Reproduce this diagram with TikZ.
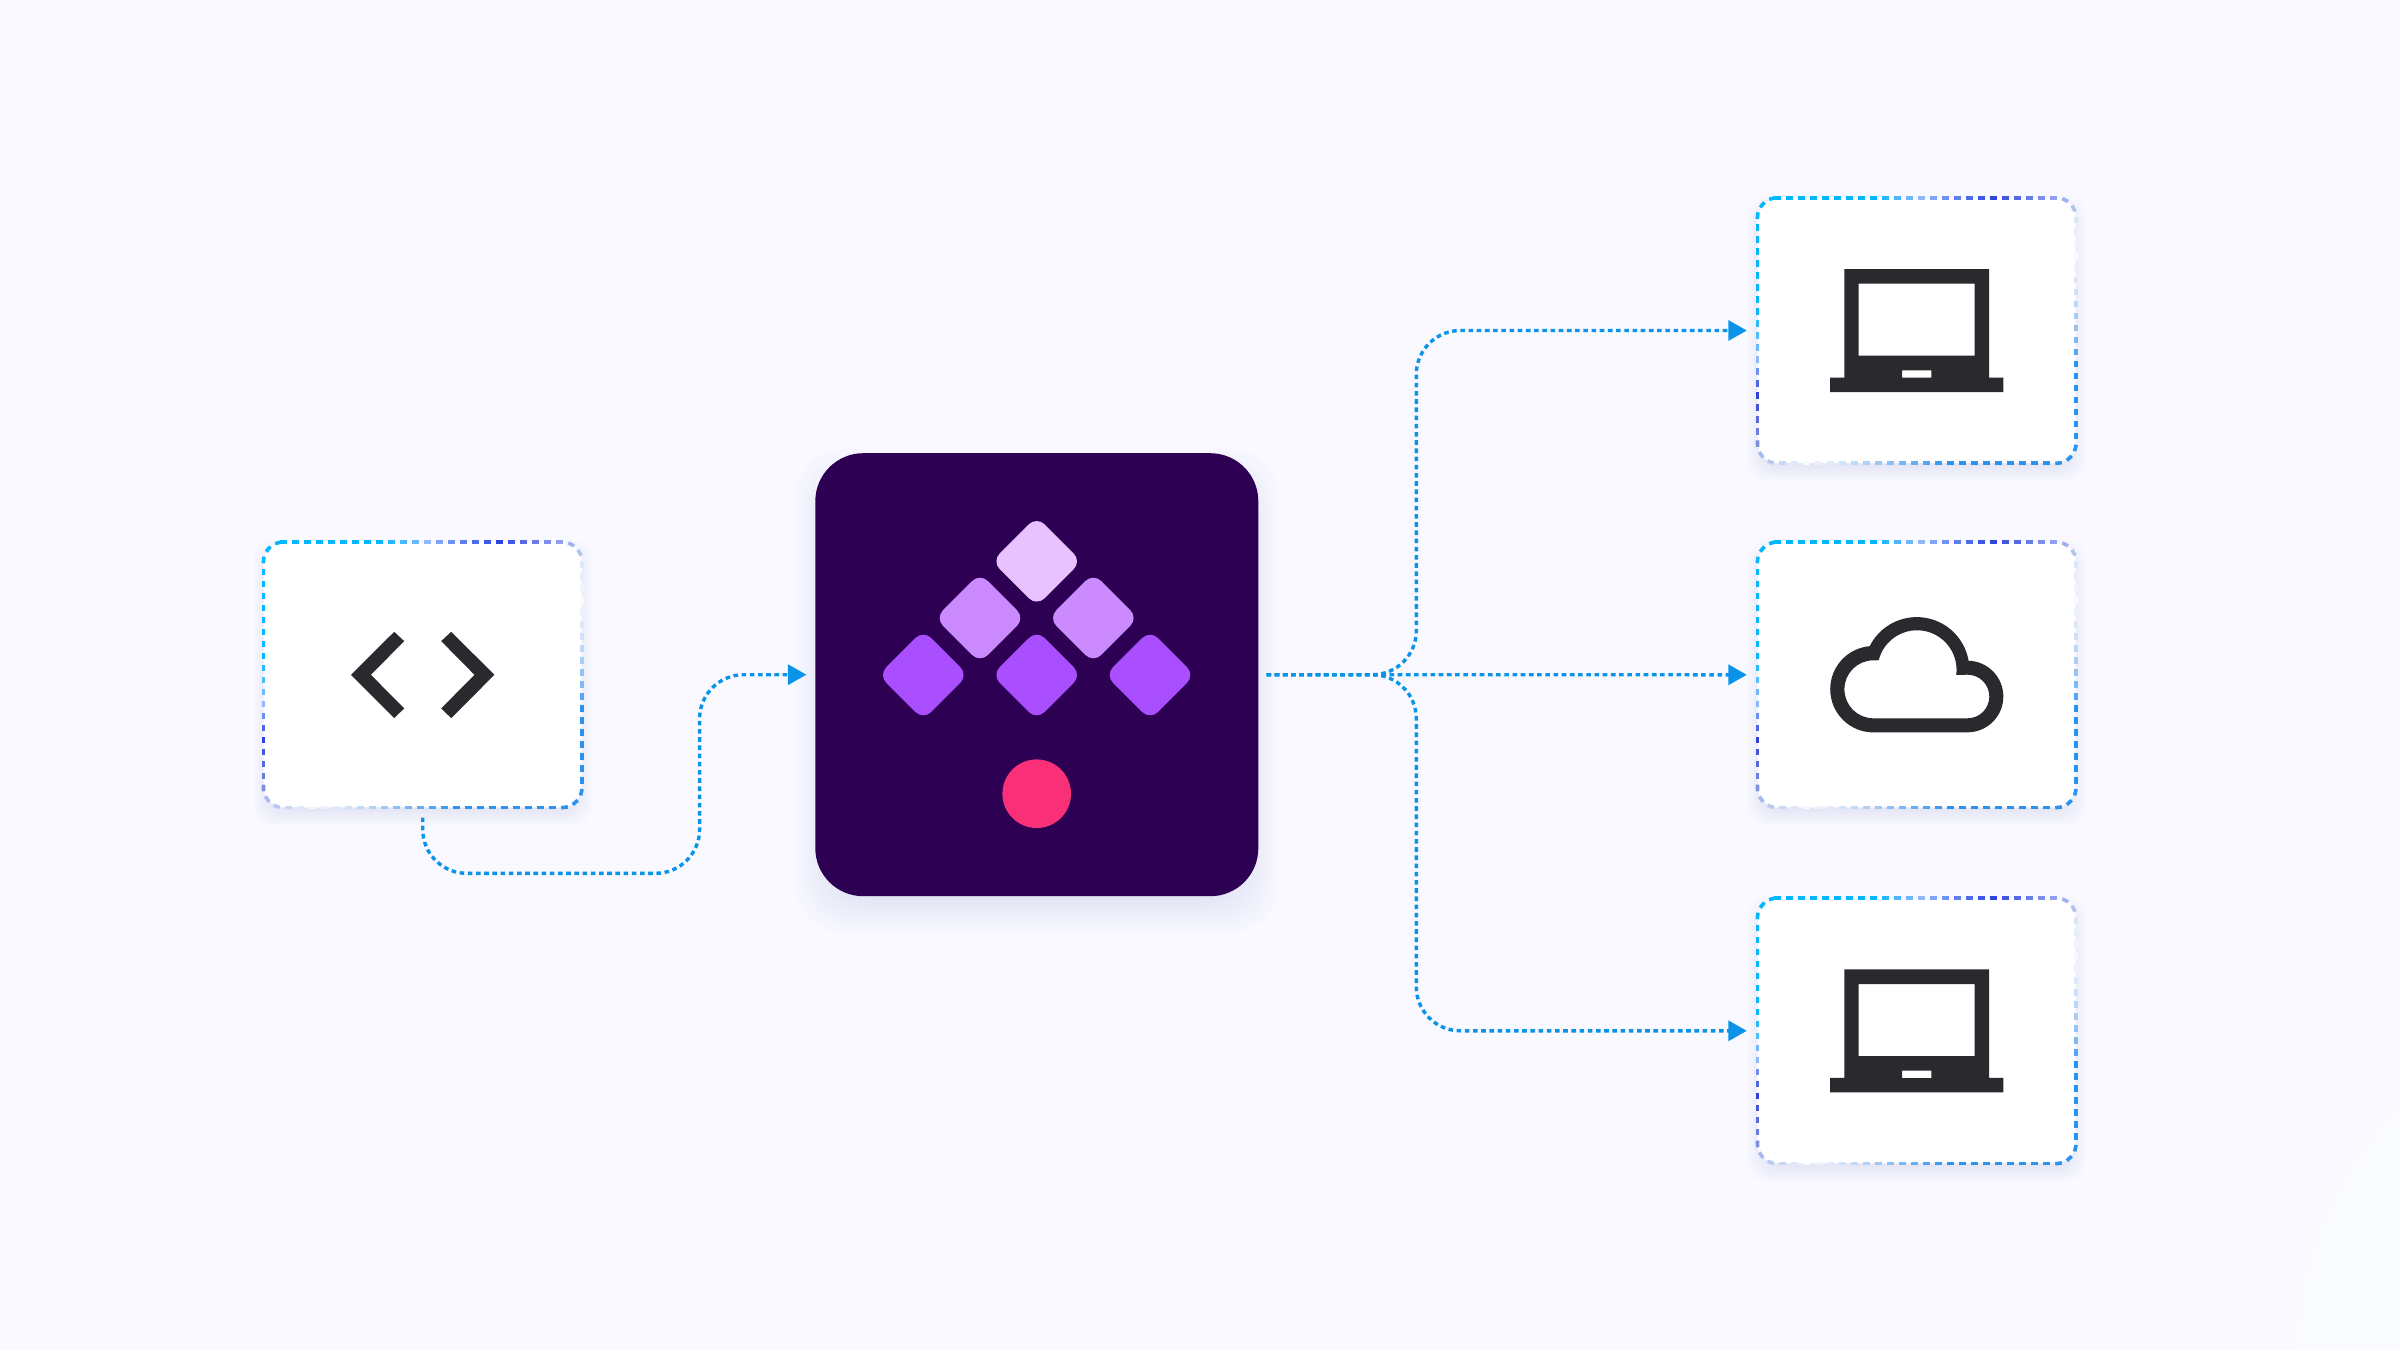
\documentclass[tikz,border=0pt]{standalone}
\usetikzlibrary{arrows.meta,decorations.markings,calc}
\definecolor{pagebg}{HTML}{F9F9FF}
\definecolor{pagelight}{HTML}{FAFBFE}
\definecolor{hubbg}{HTML}{2D0054}
\definecolor{tilea}{HTML}{E8C2FF}
\definecolor{tileb}{HTML}{CC8AFF}
\definecolor{tilec}{HTML}{AA4FFF}
\definecolor{dotpink}{HTML}{F92F78}
\definecolor{inkdark}{HTML}{29292E}
\definecolor{linkblue}{HTML}{0A93E8}
\definecolor{haze}{HTML}{C4C8F2}
% stops of the dashed border, clockwise from the top left
\definecolor{bda}{HTML}{00B8FF}
\definecolor{bdb}{HTML}{8FB8FF}
\definecolor{bdc}{HTML}{2F45E0}
\definecolor{bdd}{HTML}{90A0EE}
\definecolor{bde}{HTML}{B0C4F0}
\definecolor{bdf}{HTML}{DCE8FA}
\definecolor{bdg}{HTML}{F8FAFE}
\definecolor{bdh}{HTML}{D0E0FA}
\definecolor{bdi}{HTML}{80BAF5}
\definecolor{bdj}{HTML}{2C92F0}
\definecolor{bdk}{HTML}{A0C8F5}
\definecolor{bdl}{HTML}{E0ECFA}
\definecolor{bdm}{HTML}{C8D8F5}
\definecolor{bdn}{HTML}{A8B8F0}
\definecolor{bdo}{HTML}{8090E0}
\definecolor{bdp}{HTML}{3040DC}
\definecolor{bdq}{HTML}{50BEFF}
\tikzset{
  cardbox/.style={rectangle, fill=white, minimum width=318pt, minimum height=265pt, rounded corners=20pt, inner sep=0pt},
  hubbox/.style={rectangle, fill=hubbg, minimum size=443pt, rounded corners=48pt, inner sep=0pt},
  tile/.style={rectangle, rotate=45, minimum size=63.4pt, rounded corners=11pt, inner sep=0pt},
  link/.style={draw=linkblue, line width=3.4pt, dash pattern=on 4.6pt off 3.6pt, rounded corners=44pt, -{Triangle[length=18.5pt,width=20pt]}},
  laptop/.pic={
    \fill[inkdark, even odd rule] (-72.3,-61.5) -- (72.3,-61.5) -- (72.3,47) -- (86.7,47) -- (86.7,61.5) -- (-86.7,61.5) -- (-86.7,47) -- (-72.3,47) -- cycle
      (-58,-46.8) rectangle (58,25.2)
      (-14.7,39.8) rectangle (14.7,47.2);
  },
  cloudicon/.pic={
    \fill[inkdark, even odd rule] (-47.3,-28.1) arc[start angle=205.9, end angle=350.4, radius=52.6] -- (50.8,-14.1) arc[start angle=-90, end angle=90, radius=35.8] -- (-43.3,57.6) arc[start angle=90, end angle=265, radius=43.2] -- cycle
      (-38,-14.6) arc[start angle=194, end angle=367.5, radius=39.5] -- (50.8,-0.1) arc[start angle=-90, end angle=90, radius=21.8] -- (-43.3,43.5) arc[start angle=90, end angle=270, radius=29] -- cycle;
  },
  codeicon/.pic={
    \fill[inkdark] (-71.7,0) -- (-28.5,-43) -- (-18.5,-33.7) -- (-51.8,0) -- (-18.5,33.6) -- (-28.5,43.3) -- cycle;
    \fill[inkdark] (71.7,0) -- (28.5,-43) -- (18.5,-33.7) -- (51.8,0) -- (18.5,33.6) -- (28.5,43.3) -- cycle;
  }
}
% soft shadow under a box: #1 centre, #2 half width, #3 half height, #4 radius, #5 spread, #6 drop
\newcommand{\softshadow}[6]{
  \foreach \k in {0,...,11}{
    \pgfmathsetmacro{\grow}{#5*(\k/11-0.5)}
    \fill[haze, opacity=0.04, rounded corners=#4pt] ($#1+(-#2-\grow,-#3-\grow+#6)$) rectangle ($#1+(#2+\grow,#3+\grow+#6)$);
  }
}
% dashed border of a card, its colour running from stop to stop
\newcommand{\cardborder}[1]{
  \foreach \sa/\sb/\ca/\cb in {0/96/bda/bda, 96/144/bda/bdb, 144/216/bdb/bdc, 216/276/bdc/bdd, 276/300/bdd/bde, 300/312/bde/bdf, 312/348/bdf/bdg, 348/384/bdg/bdh, 384/432/bdh/bdi, 432/456/bdi/bdj, 456/672/bdj/bdj, 672/744/bdj/bdk, 744/792/bdk/bdl, 792/816/bdl/bdg, 816/840/bdg/bdm, 840/864/bdm/bdn, 864/876/bdn/bdo, 876/924/bdo/bdp, 924/960/bdp/bdb, 960/984/bdb/bdq, 984/1008/bdq/bda, 1008/1132/bda/bda}{
    \path[rounded corners=20pt, decorate, decoration={markings, mark=between positions \sa pt and \sb pt - 1pt step 12pt with {
        \pgfmathsetmacro{\mixp}{(\pgfkeysvalueof{/pgf/decoration/mark info/distance from start}-\sa)/(\sb-\sa)*100}
        \draw[draw={\cb!\mixp!\ca}, line width=3.6pt] (-3.3pt,0pt) -- (3.3pt,0pt);
      }}]
      ($(#1.north west)+(20,0)$) -- (#1.north east) -- (#1.south east) -- (#1.south west) -- (#1.north west) -- ($(#1.north west)+(20,0)$);
  }
}
\begin{document}
\begin{tikzpicture}[x=1pt,y=-1pt]
\useasboundingbox (0,0) rectangle (2400,1350);
\fill[pagebg] (0,0) rectangle (2400,1350);
\fill[pagelight] (2400,1108) .. controls (2340,1160) and (2297,1250) .. (2295,1350) -- (2400,1350) -- cycle;
% shadows
\softshadow{(422.7,674.8)}{159}{132.5}{20}{20}{8}
\softshadow{(1036.8,674.7)}{221.5}{221.5}{48}{40}{16}
\softshadow{(1916.7,330.5)}{159}{132.5}{20}{20}{8}
\softshadow{(1916.7,674.8)}{159}{132.5}{20}{20}{8}
\softshadow{(1916.7,1030.8)}{159}{132.5}{20}{20}{8}
% boxes
\node[cardbox] (code) at (422.7,674.8){};
\node[hubbox] (hub) at (1036.8,674.7){};
\node[cardbox] (lapup) at (1916.7,330.5){};
\node[cardbox] (cloud) at (1916.7,674.8){};
\node[cardbox] (lapdown) at (1916.7,1030.8){};
\cardborder{code}
\cardborder{lapup}
\cardborder{cloud}
\cardborder{lapdown}
% logo
\node[tile, fill=tilea] (tiletop) at (1036.7,561.3){};
\node[tile, fill=tileb] (tileleft) at (980,618){};
\node[tile, fill=tileb] (tileright) at (1093.3,618){};
\node[tile, fill=tilec] (tilelow) at (923.3,675){};
\node[tile, fill=tilec] (tilemid) at (1036.7,675){};
\node[tile, fill=tilec] (tilehigh) at (1150,675){};
\node[circle, fill=dotpink, minimum size=68.6pt, inner sep=0pt] (dot) at (1036.7,793.7){};
% icons
\pic at (code) {codeicon};
\pic at (lapup) {laptop};
\pic at (cloud) {cloudicon};
\pic at (lapdown) {laptop};
% connectors
\coordinate (bendcode) at (699.6,873.3);
\coordinate (split) at (1416.3,674.7);
\draw[link, shorten <=10pt, shorten >=8.7pt] (code.south) |- (bendcode) |- (hub.west);
\draw[link, shorten <=8pt, shorten >=10.7pt] (hub.east) -- (split) |- (lapup.west);
\draw[link, shorten <=8pt, shorten >=10.7pt] (hub.east) -- (cloud.west);
\draw[link, shorten <=8pt, shorten >=10.7pt] (hub.east) -- (split) |- (lapdown.west);
\end{tikzpicture}
\end{document}
